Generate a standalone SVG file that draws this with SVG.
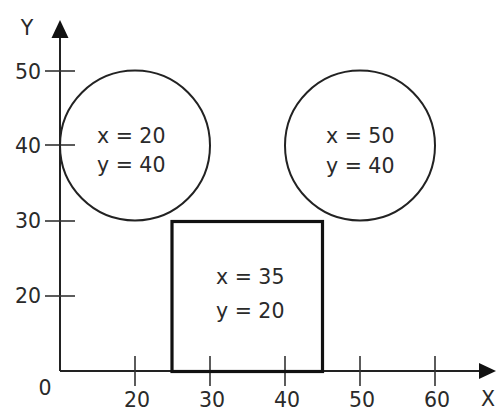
<svg xmlns="http://www.w3.org/2000/svg" width="496" height="412" viewBox="0 0 496 412">
<style>
text{font-family:"DejaVu Sans","Liberation Sans",sans-serif;font-size:20.5px;fill:#2a2a2a}
.ax{stroke:#222;stroke-width:2;fill:none}
.tk{stroke:#333;stroke-width:1.6}
.sh{stroke:#222;stroke-width:2;fill:none}
.bx{stroke:#111;stroke-width:3.2;fill:none}
.c{text-anchor:middle}
.r{text-anchor:end}
</style>
<rect width="496" height="412" fill="#fff"/>
<g id="axes">
<line class="ax" x1="60" y1="371" x2="60" y2="34"/>
<polygon points="60,20 51.5,38 68.5,38" fill="#111"/>
<line class="ax" x1="60" y1="371" x2="482" y2="371"/>
<polygon points="496,371 479,363 479,379" fill="#111"/>
<line class="tk" x1="45" y1="71" x2="75" y2="71"/>
<line class="tk" x1="45" y1="145" x2="75" y2="145"/>
<line class="tk" x1="45" y1="221" x2="75" y2="221"/>
<line class="tk" x1="45" y1="296" x2="75" y2="296"/>
<line class="tk" x1="135" y1="356" x2="135" y2="386"/>
<line class="tk" x1="210" y1="356" x2="210" y2="386"/>
<line class="tk" x1="285" y1="356" x2="285" y2="386"/>
<line class="tk" x1="360" y1="356" x2="360" y2="386"/>
<line class="tk" x1="435" y1="356" x2="435" y2="386"/>
<text x="27" y="35" class="c">Y</text>
<text x="41" y="79" class="r">50</text>
<text x="41" y="153" class="r">40</text>
<text x="41" y="228" class="r">30</text>
<text x="41" y="303" class="r">20</text>
<text x="45" y="395" class="c">0</text>
<text x="137" y="407" class="c">20</text>
<text x="212" y="407" class="c">30</text>
<text x="287" y="407" class="c">40</text>
<text x="362" y="407" class="c">50</text>
<text x="437" y="407" class="c">60</text>
<text x="488" y="406" class="c">X</text>
</g>
<g id="circle1">
<circle class="sh" cx="135" cy="145.5" r="75"/>
<text x="97" y="143">x = 20</text>
<text x="97" y="172">y = 40</text>
</g>
<g id="circle2">
<circle class="sh" cx="360" cy="145.5" r="75"/>
<text x="326" y="143">x = 50</text>
<text x="326" y="173">y = 40</text>
</g>
<g id="box">
<rect class="bx" x="172" y="221.5" width="150.5" height="150"/>
<text x="216" y="284">x = 35</text>
<text x="216" y="318">y = 20</text>
</g>
</svg>
